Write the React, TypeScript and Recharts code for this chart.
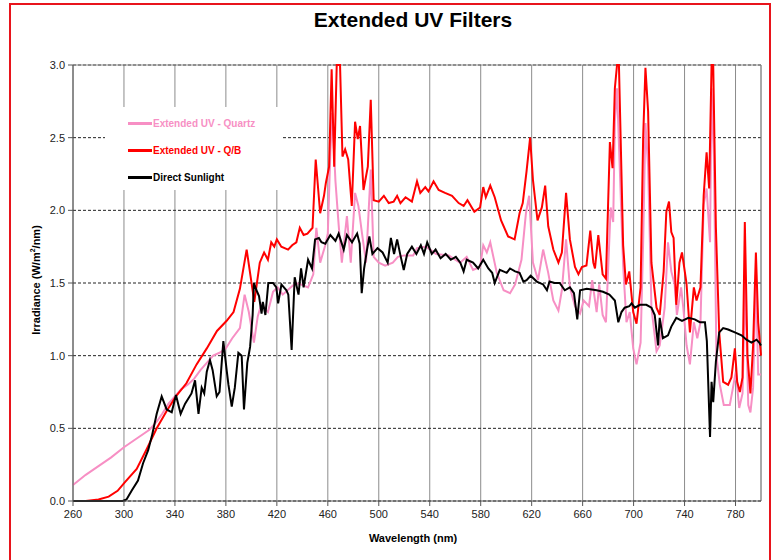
import React from 'react';
import { LineChart, Line, XAxis, YAxis, CartesianGrid, Legend, ReferenceLine } from 'recharts';

// [wavelength nm, irradiance W/m2/nm]
const quartz: [number, number][] = [
    [260, 0.11], [270, 0.18], [280, 0.24], [290, 0.3], [300, 0.37], [310, 0.43], [320, 0.49], [326, 0.55],
    [330, 0.6], [335, 0.67], [341, 0.73], [345, 0.77], [350, 0.8], [355, 0.84], [360, 0.9], [365, 0.95],
    [370, 1.0], [375, 1.02], [380, 1.05], [385, 1.12], [391, 1.19], [394.7, 1.42], [398, 1.3], [402, 1.09],
    [405, 1.27], [407.7, 1.35], [413, 1.3], [417, 1.44], [420.6, 1.47], [424.6, 1.42], [431, 1.47], [435, 1.5],
    [439, 1.49], [444.5, 1.47], [448.6, 1.56], [451, 1.88], [454, 1.64], [458, 1.76], [460, 1.84], [462, 2.4],
    [463.5, 2.67], [466, 2.2], [468.5, 1.9], [471, 1.64], [475, 1.96], [478, 1.64], [481.4, 2.12], [484, 2.03],
    [486.7, 1.85], [490, 1.64], [493.7, 2.28], [496, 1.68], [500, 1.64], [505, 1.62], [511, 1.64], [515, 1.68],
    [520, 1.69], [527, 1.69], [530, 1.74], [537, 1.75], [545, 1.7], [555, 1.69], [560, 1.66], [563.8, 1.64],
    [569, 1.68], [574, 1.59], [579.5, 1.61], [582, 1.76], [584.8, 1.71], [587.5, 1.78], [592.6, 1.57], [598, 1.45],
    [603, 1.43], [607, 1.49], [612, 1.66], [615.5, 1.98], [618, 2.1], [621, 1.64], [625, 1.52], [629, 1.73],
    [633, 1.57], [637, 1.38], [641, 1.31], [643.7, 1.45], [647, 1.8], [650, 1.47], [654, 1.34], [658, 1.29],
    [660.8, 1.38], [665, 1.34], [667.5, 1.52], [671, 1.3], [673, 1.49], [675.7, 1.28], [678.3, 1.23], [682, 2.02],
    [684, 1.92], [685.3, 2.61], [687, 2.84], [689.7, 2.15], [691.8, 1.62], [694.4, 1.23], [697, 1.3], [699.7, 1.05],
    [702.3, 0.94], [705.5, 1.09], [707.5, 1.78], [709.3, 2.6], [711.4, 2.3], [714, 1.33], [718, 1.03], [720.5, 1.07],
    [724.4, 1.33], [727, 1.78], [729.6, 1.58], [732.2, 1.49], [734, 1.28], [737.3, 1.47], [739, 1.33], [741.6, 1.07],
    [744.2, 0.94], [747.3, 1.23], [750, 1.12], [752.5, 1.23], [755, 2.04], [757.3, 2.15], [760, 1.78], [761.2, 2.84],
    [763, 2.38], [765, 1.0], [767.7, 0.8], [770.8, 0.66], [775.5, 0.66], [778, 0.78], [780.2, 0.89], [782.9, 0.64],
    [785.5, 0.74], [787.6, 1.5], [790, 0.66], [791.7, 0.61], [793.8, 0.78], [796, 1.56], [797.8, 0.87], [800, 0.87],
];

const quartzBlue: [number, number][] = [
    [260, 0], [270, 0], [280, 0.01], [288, 0.03], [295, 0.07], [300.8, 0.13], [310, 0.22], [318, 0.36],
    [325.7, 0.5], [333.5, 0.62], [340.8, 0.72], [349, 0.81], [357, 0.94], [365, 1.05], [373, 1.17], [380.6, 1.24],
    [386, 1.3], [391, 1.46], [396.3, 1.73], [402.3, 1.37], [406.6, 1.64], [410, 1.71], [413, 1.66], [415.6, 1.78],
    [418, 1.75], [420, 1.8], [423.5, 1.75], [428.8, 1.73], [432, 1.76], [435.3, 1.78], [438, 1.88], [441, 1.83],
    [444, 1.84], [448, 1.88], [450.5, 2.35], [454, 1.98], [457, 2.1], [458.5, 2.19], [461, 2.3], [463, 2.97],
    [465, 2.3], [467, 3.0], [469.6, 3.0], [471.5, 2.37], [473.6, 2.42], [476, 2.35], [478.8, 2.03], [481.4, 2.61],
    [483.5, 2.49], [485.3, 2.58], [488, 2.14], [491.4, 2.3], [493.7, 2.76], [496, 2.07], [500, 2.06], [504, 2.1],
    [507.8, 2.05], [511.7, 2.06], [514.4, 2.1], [517, 2.05], [521, 2.09], [526, 2.06], [530, 2.2], [532.6, 2.12],
    [536.5, 2.16], [539, 2.13], [543, 2.2], [547, 2.14], [552, 2.12], [557.5, 2.1], [562.7, 2.05], [566.6, 2.03],
    [569.6, 2.07], [575, 1.99], [579.5, 2.02], [582, 2.16], [584, 2.09], [587.5, 2.17], [591, 2.09], [596, 1.93],
    [601.5, 1.82], [606.6, 1.8], [610.5, 1.98], [613, 2.05], [616, 2.27], [618.8, 2.5], [621, 2.21], [624.6, 1.93],
    [628, 2.02], [630.6, 2.17], [633, 1.89], [637, 1.73], [641, 1.64], [643.7, 1.71], [647, 2.12], [650, 1.8],
    [654, 1.61], [656.7, 1.56], [659.4, 1.61], [663, 1.62], [666, 1.86], [668.4, 1.64], [669.7, 1.6], [672.3, 1.83],
    [675.7, 1.56], [678.3, 1.53], [681.4, 2.47], [683.5, 2.29], [685.3, 2.84], [687, 3.0], [688.5, 3.0], [691.8, 1.76],
    [694, 1.49], [696.6, 1.58], [699.7, 1.3], [702.3, 1.22], [705.5, 1.47], [707.5, 2.5], [709.3, 2.98], [711.4, 2.68],
    [714, 1.64], [718, 1.33], [720.5, 1.28], [723.6, 1.58], [725.7, 1.99], [727.8, 2.06], [729.6, 1.85], [731.4, 1.81],
    [733.5, 1.35], [736, 1.64], [738, 1.71], [741.5, 1.5], [744.2, 1.16], [747.3, 1.47], [749.4, 1.38], [752.5, 1.47],
    [755, 2.1], [757.3, 2.4], [759.3, 2.15], [761.2, 3.0], [762.5, 3.0], [764.6, 1.88], [767.2, 1.16], [770.3, 0.82],
    [774.2, 0.8], [776.8, 0.85], [779.5, 1.05], [781.3, 0.82], [783.4, 0.75], [785.5, 0.85], [787.3, 1.92], [789.4, 1.0],
    [791.7, 0.74], [793.8, 1.07], [796, 1.71], [797.8, 1.23], [800, 1.0],
];

const sunlight: [number, number][] = [
    [260, 0], [280, 0], [299, 0], [302, 0.01], [306, 0.07], [311, 0.14], [315, 0.26], [319, 0.35],
    [322, 0.45], [325.7, 0.6], [329.6, 0.72], [333.5, 0.63], [337.5, 0.61], [340.8, 0.73], [344.5, 0.6], [348, 0.67],
    [353, 0.74], [355.8, 0.83], [358.5, 0.6], [361, 0.78], [363, 0.74], [365, 0.89], [367.5, 0.97], [369.6, 0.9],
    [372.8, 0.72], [375, 0.75], [378, 1.1], [380.6, 0.9], [382, 0.8], [384.6, 0.65], [387, 0.78], [389.8, 1.02],
    [392.4, 1.0], [394.2, 0.63], [396.8, 0.95], [399, 1.06], [401, 1.28], [402, 1.5], [404, 1.45], [406, 1.41],
    [408, 1.29], [409, 1.37], [411, 1.28], [413.3, 1.5], [417, 1.5], [419.6, 1.47], [421, 1.36], [423.6, 1.49],
    [427.5, 1.45], [429, 1.42], [431.6, 1.04], [434, 1.54], [437, 1.42], [439, 1.6], [441, 1.47], [444.5, 1.66],
    [447.6, 1.6], [450, 1.8], [453, 1.81], [455, 1.78], [458, 1.77], [462, 1.83], [466, 1.79], [468.5, 1.84],
    [472.5, 1.73], [475, 1.83], [479, 1.78], [483, 1.84], [485, 1.77], [486.6, 1.43], [488.5, 1.6], [490.8, 1.73],
    [492.6, 1.82], [495, 1.7], [499, 1.74], [503, 1.71], [507, 1.64], [509.5, 1.81], [512, 1.7], [514.4, 1.8],
    [517, 1.69], [519.6, 1.59], [522.3, 1.7], [526, 1.75], [529.5, 1.7], [533, 1.76], [535.5, 1.7], [538, 1.78],
    [541.6, 1.7], [544.6, 1.73], [548.5, 1.67], [552.5, 1.7], [556.5, 1.66], [560.5, 1.68], [564, 1.64], [566.6, 1.58],
    [569, 1.66], [574, 1.64], [578, 1.6], [582, 1.66], [586, 1.6], [589, 1.57], [591, 1.5], [595, 1.59],
    [600.4, 1.57], [603, 1.6], [607, 1.58], [610.5, 1.57], [613.5, 1.51], [616, 1.52], [619.2, 1.55], [624, 1.51],
    [629, 1.49], [632, 1.45], [634, 1.51], [638, 1.5], [642, 1.5], [646, 1.45], [650, 1.47], [653.2, 1.43],
    [655.8, 1.25], [658, 1.45], [663.2, 1.46], [671, 1.45], [676, 1.44], [681, 1.42], [685.3, 1.38], [688, 1.23],
    [690.5, 1.3], [693, 1.33], [696.6, 1.34], [698.4, 1.36], [701, 1.33], [705, 1.35], [710, 1.35], [714, 1.33],
    [716.6, 1.28], [719.2, 1.07], [720.5, 1.26], [723, 1.12], [727, 1.14], [729.6, 1.2], [733.5, 1.26], [738, 1.24],
    [743, 1.26], [748, 1.25], [752, 1.23], [756, 1.23], [757.5, 1.1], [760, 0.44], [761.2, 0.82], [762.5, 0.68],
    [764.6, 0.96], [767.2, 1.16], [770.3, 1.19], [774.2, 1.18], [779.5, 1.16], [784.7, 1.14], [788.6, 1.11], [792.5, 1.09],
    [796.5, 1.11], [798.6, 1.09], [800, 1.07],
];

const xTicks = [260, 300, 340, 380, 420, 460, 500, 540, 580, 620, 660, 700, 740, 780];
const yTicks = [0, 0.5, 1, 1.5, 2, 2.5, 3];

const series = [
    { name: 'Extended UV - Quartz', color: '#f78fc4', points: quartz },
    { name: 'Extended UV - Q/B', color: '#ff0000', points: quartzBlue },
    { name: 'Direct Sunlight', color: '#000000', points: sunlight },
];

const FONT = '"Liberation Sans", Arial, sans-serif';

const toRows = (pts: [number, number][]) => pts.map(([nm, v]) => ({ nm, v }));

const renderLegend = () => (
    <div style={{ background: '#fff', width: 178, height: 83, paddingTop: 3, boxSizing: 'border-box' }}>
        {series.map((s) => (
            <div key={s.name} style={{ display: 'flex', alignItems: 'center', height: 27 }}>
                <div style={{ marginLeft: 23, width: 24, height: 2.5, background: s.color }} />
                <span style={{ marginLeft: 1, color: s.color, fontFamily: FONT, fontWeight: 'bold', fontSize: 10 }}>
                    {s.name}
                </span>
            </div>
        ))}
    </div>
);

export default function App() {
    return (
        <div style={{ position: 'absolute', left: 0, top: 0, width: 777, height: 560, overflow: 'hidden', background: '#fff' }}>
            <div style={{ position: 'absolute', left: 9, top: 3, width: 758, height: 600, border: '2px solid #e8141c' }} />
            <div style={{ position: 'absolute', left: 0, width: 826, top: 8, textAlign: 'center', fontFamily: FONT, fontWeight: 'bold', fontSize: 21 }}>
                Extended UV Filters
            </div>
            <div style={{ position: 'absolute', left: 0, width: 826, top: 532, textAlign: 'center', fontFamily: FONT, fontWeight: 'bold', fontSize: 11 }}>
                Wavelength (nm)
            </div>
            <div
                style={{
                    position: 'absolute', left: 33 - 100, top: 280 - 8, width: 200, height: 16, lineHeight: '16px',
                    textAlign: 'center', transform: 'rotate(-90deg)', fontFamily: FONT, fontWeight: 'bold', fontSize: 11,
                }}
            >
                Irradiance (W/m<sup style={{ fontSize: 7 }}>2</sup>/nm)
            </div>
            <div style={{ position: 'absolute', left: 0, top: 0 }}>
                <LineChart width={777} height={560} margin={{ top: 65, right: 16, bottom: 29, left: 23 }}>
                    <CartesianGrid horizontal={false} stroke="#8c8c8c" />
                    <CartesianGrid vertical={false} stroke="#222" strokeDasharray="3 2" />
                    <XAxis
                        dataKey="nm"
                        type="number"
                        domain={[260, 800]}
                        ticks={xTicks}
                        interval={0}
                        height={30}
                        tickSize={5}
                        tickMargin={4}
                        allowDuplicatedCategory={false}
                        stroke="#555"
                        tick={{ fill: '#222', fontSize: 11, fontFamily: FONT }}
                    />
                    <YAxis
                        type="number"
                        domain={[0, 3]}
                        ticks={yTicks}
                        interval={0}
                        width={50}
                        tickSize={5}
                        tickMargin={3}
                        stroke="#555"
                        tickFormatter={(v: number) => v.toFixed(1)}
                        tick={{ fill: '#222', fontSize: 11, fontFamily: FONT }}
                    />
                    <ReferenceLine y={3} stroke="#8c8c8c" />
                    <ReferenceLine x={800} stroke="#8c8c8c" />
                    {series.map((s) => (
                        <Line
                            key={s.name}
                            name={s.name}
                            data={toRows(s.points)}
                            dataKey="v"
                            type="linear"
                            stroke={s.color}
                            strokeWidth={2}
                            dot={false}
                            activeDot={false}
                            isAnimationActive={false}
                        />
                    ))}
                    <Legend
                        content={renderLegend}
                        layout="vertical"
                        align="center"
                        verticalAlign="middle"
                        wrapperStyle={{ position: 'absolute', left: 105, top: 107, width: 178, height: 83 }}
                    />
                </LineChart>
            </div>
        </div>
    );
}
